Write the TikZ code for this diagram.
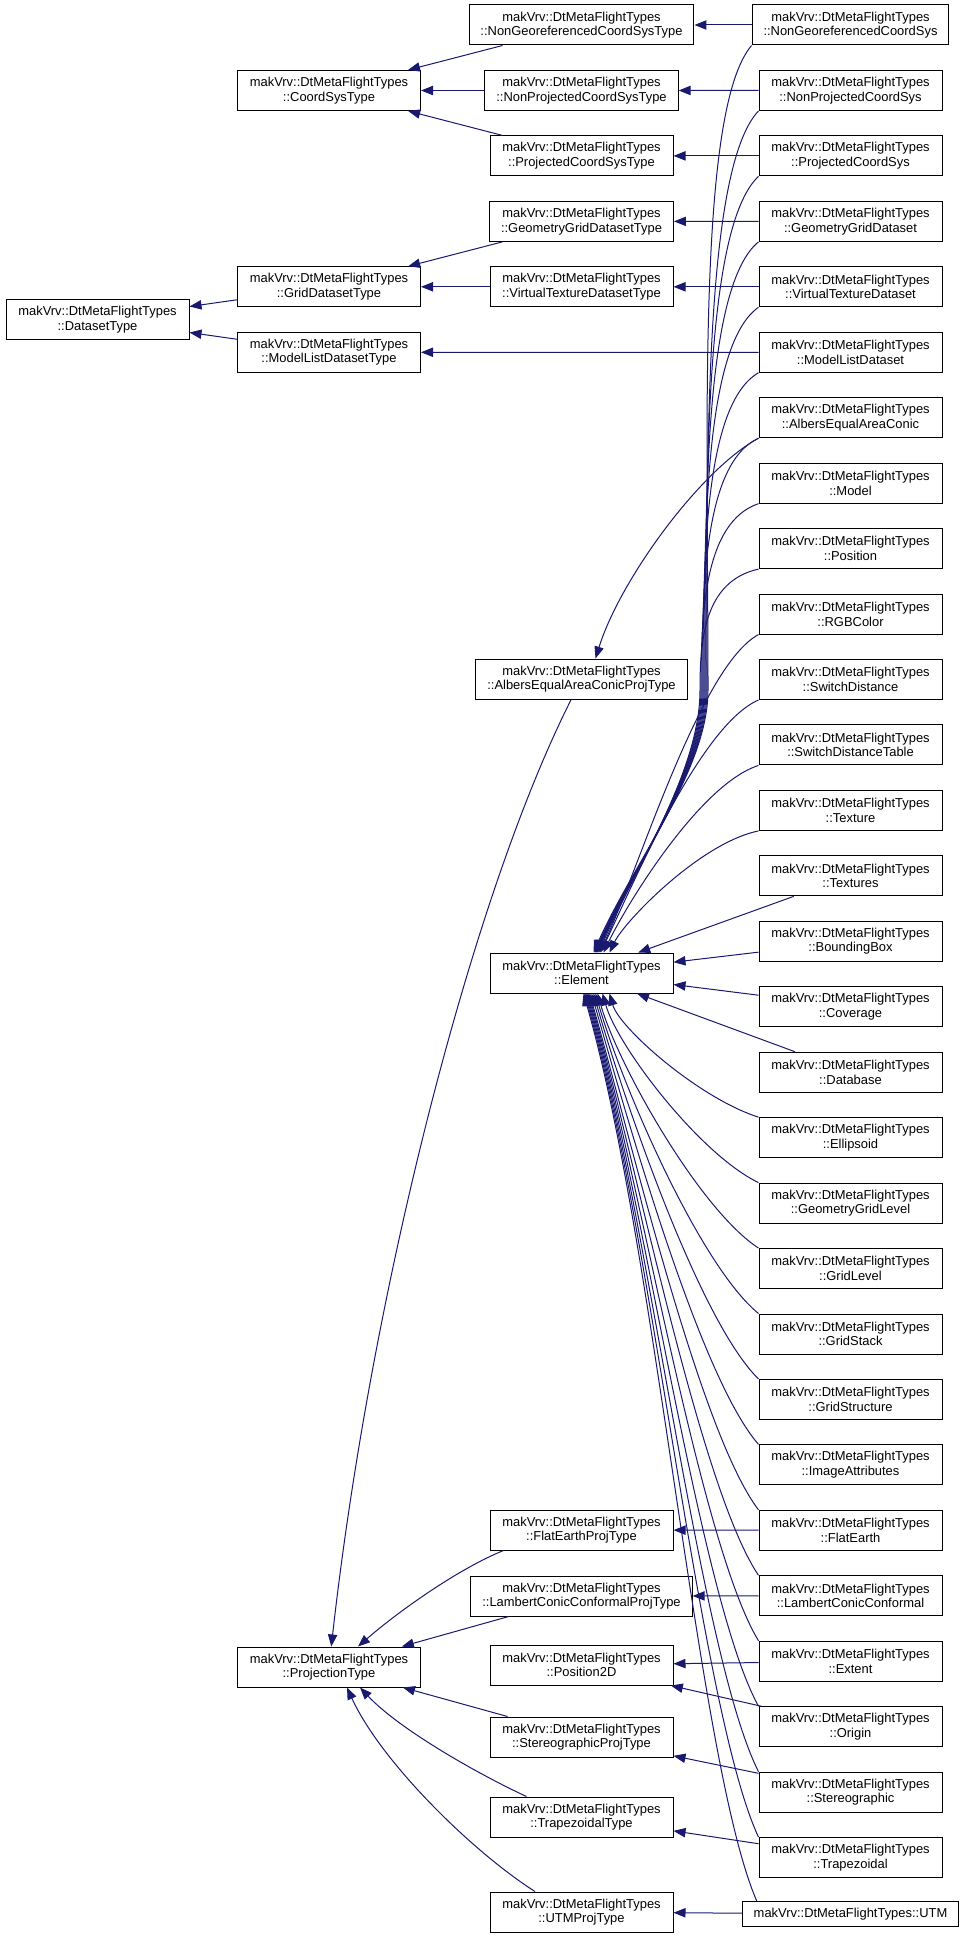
\documentclass[tikz,border=0pt]{standalone}
\usepackage{fontspec}
\setmainfont{Liberation Sans}
\usepackage{tikz}
\usepackage{xcolor}
\usetikzlibrary{arrows.meta}
\usetikzlibrary{calc}

\definecolor{inhblue}{HTML}{191970}

\begin{document}
\begin{tikzpicture}[x=0.75pt,y=-0.75pt,
  cls/.style={draw=black,line width=0.75pt,fill=white,align=center,
    font=\fontsize{9.7}{11}\selectfont,inner xsep=8.6pt,inner ysep=0pt,
    minimum width=137.25pt,minimum height=30pt},
  inh/.style={draw=inhblue,line width=0.75pt,-{Triangle[length=9pt,width=7pt]}}]
\useasboundingbox (0,0) rectangle (965,1937);

% right column
\foreach \n/\t [count=\i from 0] in {ngcs/NonGeoreferencedCoordSys,npcs/NonProjectedCoordSys,
  pcs/ProjectedCoordSys,ggds/GeometryGridDataset,vtds/VirtualTextureDataset,
  mlds/ModelListDataset,aeac/AlbersEqualAreaConic,model/Model,position/Position,
  rgbcolor/RGBColor,swdist/SwitchDistance,swdisttab/SwitchDistanceTable,
  texture/Texture,textures/Textures,bbox/BoundingBox,coverage/Coverage,
  database/Database,ellipsoid/Ellipsoid,ggl/GeometryGridLevel,gridlevel/GridLevel,
  gridstack/GridStack,gridstruct/GridStructure,imgattr/ImageAttributes,
  flatearth/FlatEarth,lcc/LambertConicConformal,extent/Extent,origin/Origin,
  stereo/Stereographic,trapez/Trapezoidal}
  \node[cls] (\n) at (850.5,{25+65.45*\i}) {makVrv::DtMetaFlightTypes\\::\t};
\node[cls,minimum height=18.75pt] (utm) at (850.5,1914) {makVrv::DtMetaFlightTypes::UTM};

% middle column
\node[cls] (ngcst) at (581.5,25) {makVrv::DtMetaFlightTypes\\::NonGeoreferencedCoordSysType};
\node[cls] (npcst) at (581.5,90.5) {makVrv::DtMetaFlightTypes\\::NonProjectedCoordSysType};
\node[cls] (pcst) at (581.5,155.9) {makVrv::DtMetaFlightTypes\\::ProjectedCoordSysType};
\node[cls] (ggdst) at (581.5,221.4) {makVrv::DtMetaFlightTypes\\::GeometryGridDatasetType};
\node[cls] (vtdst) at (581.5,286.8) {makVrv::DtMetaFlightTypes\\::VirtualTextureDatasetType};
\node[cls] (aeacpt) at (581.5,679) {makVrv::DtMetaFlightTypes\\::AlbersEqualAreaConicProjType};
\node[cls] (element) at (581.5,973) {makVrv::DtMetaFlightTypes\\::Element};
\node[cls] (feprt) at (581.5,1530) {makVrv::DtMetaFlightTypes\\::FlatEarthProjType};
\node[cls] (lccpt) at (581.5,1596) {makVrv::DtMetaFlightTypes\\::LambertConicConformalProjType};
\node[cls] (pos2d) at (581.5,1665) {makVrv::DtMetaFlightTypes\\::Position2D};
\node[cls] (stpt) at (581.5,1737) {makVrv::DtMetaFlightTypes\\::StereographicProjType};
\node[cls] (trapt) at (581.5,1817) {makVrv::DtMetaFlightTypes\\::TrapezoidalType};
\node[cls] (utmpt) at (581.5,1912) {makVrv::DtMetaFlightTypes\\::UTMProjType};

% left columns
\node[cls] (coordsys) at (329,90.5) {makVrv::DtMetaFlightTypes\\::CoordSysType};
\node[cls] (gridds) at (329,286.8) {makVrv::DtMetaFlightTypes\\::GridDatasetType};
\node[cls] (mldst) at (329,352.3) {makVrv::DtMetaFlightTypes\\::ModelListDatasetType};
\node[cls] (projtype) at (329,1667) {makVrv::DtMetaFlightTypes\\::ProjectionType};
\node[cls] (dataset) at (97.5,319.5) {makVrv::DtMetaFlightTypes\\::DatasetType};

% straight links
\foreach \a/\b in {ngcs/ngcst,npcs/npcst,pcs/pcst,ggds/ggdst,vtds/vtdst,mlds/mldst,
  flatearth/feprt,lcc/lccpt,extent/pos2d,origin/pos2d,stereo/stpt,trapez/trapt,utm/utmpt,
  ngcst/coordsys,npcst/coordsys,pcst/coordsys,ggdst/gridds,vtdst/gridds,
  gridds/dataset,mldst/dataset,lccpt/projtype,stpt/projtype,
  textures/element,bbox/element,coverage/element,database/element}
  \draw[inh] (\a) -- (\b);

% curved links to ProjectionType
\draw[inh] (aeac.south west) .. controls (700,470) and (620,580) .. ($(aeacpt.north)+(14,0)$);
\draw[inh] (aeacpt) .. controls (470,900) and (370,1300) .. (projtype);
\draw[inh] ($(feprt.south)+(-78,0)$) .. controls (460,1568) and (400,1610) .. ($(projtype.north)+(29,0)$);
\draw[inh] ($(trapt.north)+(-55,0)$) .. controls (480,1775) and (400,1730) .. ($(projtype.south)+(31,0)$);
\draw[inh] ($(utmpt.north)+(-46.5,0)$) .. controls (470,1850) and (380,1760) .. ($(projtype.south)+(18,0)$);

% links to Element from above, along the bundle
\foreach \n/\i/\dx/\xm in {ngcs/0/12/708,npcs/1/13/707,pcs/2/13.5/706,ggds/3/14/705,
  vtds/4/14.5/704,mlds/5/15/703,aeac/6/15.5/702,model/7/16/701,position/8/17/700}
{
  \pgfmathsetmacro\len{645-65.45*\i}
  \draw[inh] (\n.south west) .. controls +(-55,{0.1*\len}) and +(0,{-0.4*\len}) .. (\xm,690)
    .. controls +(0,80) and +(40,-90) .. ($(element.north)+(\dx,0)$);
}
\foreach \n/\i/\dx in {rgbcolor/9/18,swdist/10/19,swdisttab/11/22,texture/12/28}
{
  \pgfmathsetmacro\len{908-65.45*\i}
  \draw[inh] (\n.south west) .. controls +(-59,{0.1*\len}) and +({0.12*\len},{-0.25*\len})
    .. ($(element.north)+(\dx,0)$);
}

% links to Element from below
\foreach \n/\i/\dx in {ellipsoid/17/28,ggl/18/21,gridlevel/19/16,gridstack/20/14,
  gridstruct/21/12,imgattr/22/10,flatearth/23/8,lcc/24/7,extent/25/6,origin/26/5,
  stereo/27/4,trapez/28/3}
{
  \pgfmathsetmacro\len{65.45*\i-988}
  \draw[inh] (\n.north west) .. controls +(-59,{-0.15*\len}) and +({0.08*\len},{0.28*\len})
    .. ($(element.south)+(\dx,0)$);
}
\draw[inh] ($(utm.north west)+(15,0)$) .. controls +(-59,-136) and +(73,255) .. ($(element.south)+(2,0)$);
\end{tikzpicture}
\end{document}
